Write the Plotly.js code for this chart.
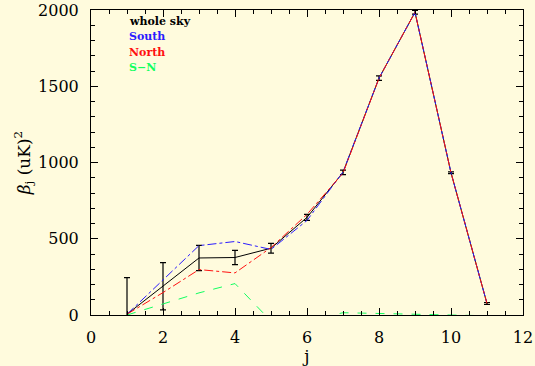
<!DOCTYPE html>
<html>
<head>
<meta charset="utf-8">
<script src="https://cdn.plot.ly/plotly-3.0.1.min.js"></script>
<style>html,body{margin:0;padding:0;background:#fffbdd;}</style>
</head>
<body>
<div id="chart" style="width:535px;height:366px;"></div>
<script>
const j = [1, 2, 3, 4, 5, 6, 7, 8, 9, 10, 11];
const wholeSky = [5, 188, 374, 377, 438, 640, 935, 1553, 1985, 933, 75];
const wholeSkyErr = [240, 155, 83, 47, 32, 20, 15, 15, 12, 6, 6];
const south = [5, 232, 455, 482, 430, 620, 938, 1553, 1985, 933, 75];
const north = [5, 147, 298, 276, 442, 660, 930, 1553, 1985, 933, 75];
const sMinusN = [0, 75, 145, 206, -40, -40, 15, 10, 5, -5, -5];
const legendLabels = ["whole sky", "South", "North", "S\u2212N"];
const legendColors = ["#000000", "#2b1cff", "#ff1010", "#10ff60"];

const traces = [
  {x: j, y: wholeSky, mode: 'lines', line: {color: legendColors[0], width: 1},
   error_y: {type: 'data', array: wholeSkyErr, visible: true, color: '#000', thickness: 1.2, width: 3}},
  {x: j, y: south, mode: 'lines', line: {color: legendColors[1], width: 1, dash: 'dashdot'}},
  {x: j, y: north, mode: 'lines', line: {color: legendColors[2], width: 1, dash: 'dashdot'}},
  {x: j, y: sMinusN, mode: 'lines', line: {color: legendColors[3], width: 1, dash: 'dash'}}
];

const legY = [0.961, 0.912, 0.862, 0.811];
const annotations = legendLabels.map((t, i) => ({
  text: '<b>' + t + '</b>', xref: 'paper', yref: 'paper', x: 0.083, y: legY[i],
  xanchor: 'left', yanchor: 'middle', showarrow: false,
  font: {family: 'DejaVu Serif', size: 11, color: legendColors[i]}
}));

const axisCommon = {
  showline: true, linecolor: '#000', linewidth: 1, mirror: 'allticks',
  ticks: 'inside', ticklen: 7, tickcolor: '#000', tickwidth: 1,
  showgrid: false, zeroline: false,
  tickfont: {family: 'DejaVu Serif', size: 16, color: '#000'}
};

const layout = {
  width: 535, height: 366,
  paper_bgcolor: '#fffbdd', plot_bgcolor: '#fffbdd',
  margin: {l: 91, r: 12, t: 10, b: 51},
  showlegend: false,
  xaxis: Object.assign({}, axisCommon, {
    range: [0, 12], tickmode: 'linear', tick0: 0, dtick: 2,
    minor: {ticks: 'inside', dtick: 0.5, ticklen: 4, tickcolor: '#000'},
    ticklabelstandoff: 8,
    title: {text: 'j', font: {family: 'DejaVu Serif', size: 17, color: '#000'}, standoff: 6}
  }),
  yaxis: Object.assign({}, axisCommon, {
    range: [0, 2000], tickmode: 'linear', tick0: 0, dtick: 500,
    minor: {ticks: 'inside', dtick: 100, ticklen: 4, tickcolor: '#000'},
    ticklabelstandoff: 8,
    title: {text: '<i>\u03B2</i><sub>j</sub> (uK)<sup>2</sup>', font: {family: 'DejaVu Serif', size: 17, color: '#000'}, standoff: 3}
  }),
  annotations: annotations
};

Plotly.newPlot('chart', traces, layout, {staticPlot: true, displayModeBar: false});
</script>
</body>
</html>
